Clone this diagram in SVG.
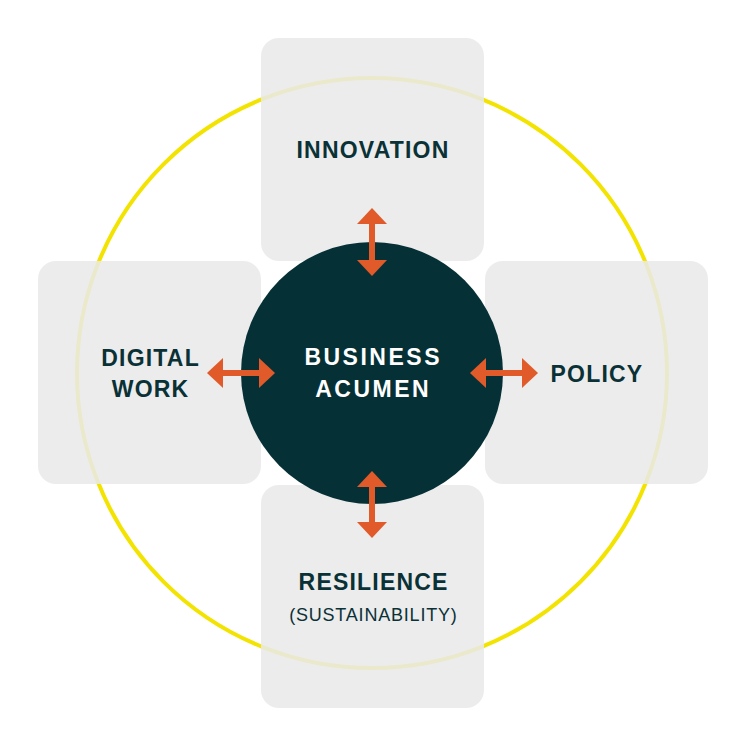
<svg xmlns="http://www.w3.org/2000/svg" width="745" height="745" viewBox="0 0 745 745">
  <defs>
    <style>
      .box { fill: #e9e9e9; fill-opacity: 0.87; }
      .lbl { font-family: "Liberation Sans", Arial, sans-serif; font-weight: bold; font-size: 23px; fill: #0a3136; text-anchor: middle; letter-spacing: 1.2px; }
      .core { font-family: "Liberation Sans", Arial, sans-serif; font-weight: bold; font-size: 23px; fill: #ffffff; text-anchor: middle; letter-spacing: 2.5px; }
      .sub { font-family: "Liberation Sans", Arial, sans-serif; font-size: 18px; fill: #0a3136; text-anchor: middle; letter-spacing: 0.8px; }
      .arrow { stroke: #e05a2a; stroke-width: 6; fill: none; }
      .head { fill: #e05a2a; }
    </style>
  </defs>
  <rect width="745" height="745" fill="#ffffff"/>
  <g id="ring">
    <circle cx="372" cy="373" r="295" fill="none" stroke="#f3e300" stroke-width="4"/>
  </g>
  <g id="innovation">
    <rect class="box" x="261" y="38" width="223" height="223" rx="18"/>
    <text class="lbl" x="373" y="158">INNOVATION</text>
  </g>
  <g id="digital-work">
    <rect class="box" x="38" y="261" width="223" height="223" rx="18"/>
    <text class="lbl" x="150.6" y="366">DIGITAL</text>
    <text class="lbl" x="150.6" y="397">WORK</text>
  </g>
  <g id="policy">
    <rect class="box" x="485" y="261" width="223" height="223" rx="18"/>
    <text class="lbl" x="597" y="382">POLICY</text>
  </g>
  <g id="resilience">
    <rect class="box" x="261" y="485" width="223" height="223" rx="18"/>
    <text class="lbl" x="373.6" y="590">RESILIENCE</text>
    <text class="sub" x="373.4" y="621">(SUSTAINABILITY)</text>
  </g>
  <g id="business-acumen">
    <circle cx="372" cy="373" r="131" fill="#053036"/>
    <text class="core" x="373.2" y="365">BUSINESS</text>
    <text class="core" x="373.2" y="397">ACUMEN</text>
  </g>
  <g id="connectors">
    <line class="arrow" x1="372" y1="222" x2="372" y2="262"/>
    <polygon class="head" points="372,208 357,224 387,224"/>
    <polygon class="head" points="372,276 357,260 387,260"/>
    <line class="arrow" x1="372" y1="485" x2="372" y2="524"/>
    <polygon class="head" points="372,471 357,487 387,487"/>
    <polygon class="head" points="372,538 357,522 387,522"/>
    <line class="arrow" x1="221" y1="373" x2="261" y2="373"/>
    <polygon class="head" points="207,373 223,358 223,388"/>
    <polygon class="head" points="275,373 259,358 259,388"/>
    <line class="arrow" x1="484" y1="373" x2="524" y2="373"/>
    <polygon class="head" points="470,373 486,358 486,388"/>
    <polygon class="head" points="538,373 522,358 522,388"/>
  </g>
</svg>
